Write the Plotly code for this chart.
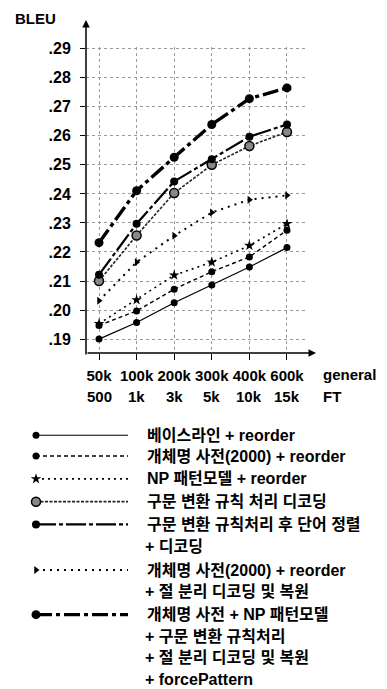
import plotly.graph_objects as go

# ---------------- data ----------------
categories = ["50k", "100k", "200k", "300k", "400k", "600k"]
ft_labels = ["500", "1k", "3k", "5k", "10k", "15k"]
y_tickvals = [0.19, 0.20, 0.21, 0.22, 0.23, 0.24, 0.25, 0.26, 0.27, 0.28, 0.29]
y_ticktext = [".19", ".20", ".21", ".22", ".23", ".24", ".25", ".26", ".27", ".28", ".29"]

s_baseline = [0.1900, 0.1957, 0.2025, 0.2086, 0.2148, 0.2215]
s_dict2000 = [0.1947, 0.1997, 0.2072, 0.2132, 0.2183, 0.2275]
s_np = [0.1953, 0.2035, 0.2120, 0.2165, 0.2222, 0.2297]
s_syntax = [0.2100, 0.2257, 0.2403, 0.2500, 0.2565, 0.2613]
s_syntax_reorder = [0.2122, 0.2297, 0.2443, 0.2519, 0.2597, 0.2639]
s_dict_clause = [0.2032, 0.2165, 0.2256, 0.2336, 0.2380, 0.2395]
s_all = [0.2232, 0.2411, 0.2526, 0.2639, 0.2728, 0.2765]

legend_labels = [
    "베이스라인 + reorder",
    "개체명 사전(2000) + reorder",
    "NP 패턴모델 + reorder",
    "구문 변환 규칙 처리 디코딩",
    "구문 변환 규칙처리 후 단어 정렬\n+ 디코딩",
    "개체명 사전(2000) + reorder\n+ 절 분리 디코딩 및 복원",
    "개체명 사전 + NP 패턴모델\n+ 구문 변환 규칙처리\n+ 절 분리 디코딩 및 복원\n+ forcePattern",
]

# ---------------- geometry (page pixels; page has 8px body margin) ----------------
OFF = 8
PAGE_W, PAGE_H = 387, 689
W, H = PAGE_W - OFF, PAGE_H - OFF
PX_L, PX_R, PX_T, PX_B = 86, 305, 41, 350


def fx(p):
    return (p - OFF) / W


def fy(p):
    return 1 - (p - OFF) / H


styles = [
    dict(line=dict(color="black", width=1.2, dash="solid"),
         marker=dict(symbol="circle", size=7, color="black")),
    dict(line=dict(color="black", width=1.4, dash="4px,3px"),
         marker=dict(symbol="circle", size=7, color="black")),
    dict(line=dict(color="black", width=1.6, dash="2px,4px"),
         marker=dict(symbol="star", size=8, color="black")),
    dict(line=dict(color="#222", width=1.6, dash="3px,1.5px"),
         marker=dict(symbol="circle", size=9, color="#888",
                     line=dict(color="black", width=1.5))),
    dict(line=dict(color="black", width=2.2, dash="20px,3px,4px,3px"),
         marker=dict(symbol="circle", size=8, color="black")),
    dict(line=dict(color="black", width=2.0, dash="2px,5px"),
         marker=dict(symbol="triangle-right", size=7, color="black")),
    dict(line=dict(color="black", width=3.4, dash="16px,4px,4px,4px"),
         marker=dict(symbol="circle", size=9, color="black")),
]
series = [s_baseline, s_dict2000, s_np, s_syntax, s_syntax_reorder, s_dict_clause, s_all]

fig = go.Figure()
for vals, st, name in zip(series, styles, legend_labels):
    fig.add_trace(go.Scatter(x=categories, y=vals, mode="lines+markers",
                             name=name.replace("\n", " "), showlegend=False,
                             line=st["line"], marker=st["marker"],
                             xaxis="x", yaxis="y", cliponaxis=False))

# ---------------- manual legend (overlay axes in page pixels) ----------------
legend_rows = [433, 454, 477, 500, 523, 569, 614]
LINE_X0, LINE_X1, TEXT_X = 36, 128, 145
ROW_STEP = 21.8
legend_font = dict(family="Liberation Sans, Noto Sans CJK KR", size=16,
                   color="black", weight="bold")
for row_y, st, label in zip(legend_rows, styles, legend_labels):
    fig.add_trace(go.Scatter(x=[LINE_X0, LINE_X1], y=[row_y, row_y], mode="lines",
                             line=st["line"], showlegend=False, hoverinfo="skip",
                             xaxis="x2", yaxis="y2"))
    fig.add_trace(go.Scatter(x=[LINE_X0], y=[row_y], mode="markers",
                             marker=st["marker"], showlegend=False, hoverinfo="skip",
                             xaxis="x2", yaxis="y2"))
    for k, part in enumerate(label.split("\n")):
        fig.add_annotation(x=TEXT_X - (2 if k > 0 else 0), y=row_y + k * ROW_STEP,
                           xref="x2", yref="y2", text=part, showarrow=False,
                           xanchor="left", yanchor="middle", font=legend_font)

xtick_font = dict(family="Liberation Sans", size=15, color="black", weight="bold")
ytick_font = dict(family="Liberation Sans", size=16, color="black", weight="bold")

fig.update_layout(
    width=W, height=H,
    margin=dict(l=0, r=0, t=0, b=0),
    paper_bgcolor="white", plot_bgcolor="rgba(0,0,0,0)",
    xaxis=dict(domain=[fx(PX_L), fx(PX_R)], type="category",
               range=[-0.3457, 5.479], showline=False, zeroline=False,
               showgrid=True, gridcolor="#999", griddash="dot", gridwidth=1,
               ticks="outside", ticklen=6, tickcolor="black", tickwidth=1.2,
               tickangle=0, tickfont=xtick_font, ticklabelstandoff=3, anchor="y"),
    yaxis=dict(domain=[fy(PX_B), fy(PX_T)], range=[0.18522, 0.29068],
               tickvals=y_tickvals, ticktext=y_ticktext,
               showline=False, zeroline=False,
               showgrid=True, gridcolor="#999", griddash="dot", gridwidth=1,
               ticks="outside", ticklen=5, tickcolor="black", tickwidth=1.2,
               tickfont=ytick_font, ticklabelstandoff=6, anchor="x"),
    xaxis2=dict(domain=[0, 1], range=[OFF, PAGE_W], visible=False, anchor="y2",
                fixedrange=True),
    yaxis2=dict(domain=[0, 1], range=[PAGE_H, OFF], visible=False, anchor="x2",
                fixedrange=True),
)

# second row of x tick labels (FT sizes) and axis names
for cat, ft in zip(categories, ft_labels):
    fig.add_annotation(x=cat, y=fy(394), xref="x", yref="paper", text=ft,
                       showarrow=False, xanchor="center", yanchor="middle",
                       font=xtick_font)
fig.add_annotation(x=fx(321), y=fy(372), xref="paper", yref="paper", text="general",
                   showarrow=False, xanchor="left", yanchor="middle", font=xtick_font)
fig.add_annotation(x=fx(321), y=fy(394), xref="paper", yref="paper", text="FT",
                   showarrow=False, xanchor="left", yanchor="middle", font=xtick_font)
fig.add_annotation(x=fx(13), y=fy(13), xref="paper", yref="paper", text="BLEU",
                   showarrow=False, xanchor="left", yanchor="middle",
                   font=dict(family="Liberation Sans", size=15, color="black",
                             weight="bold"))

# axis arrows
fig.add_annotation(x=fx(316), y=fy(PX_B), xref="paper", yref="paper", text="",
                   showarrow=True, arrowhead=2, arrowsize=1, arrowwidth=1.5,
                   arrowcolor="black", ax=-(316 - PX_L), ay=0)
fig.add_annotation(x=fx(PX_L), y=fy(14), xref="paper", yref="paper", text="",
                   showarrow=True, arrowhead=2, arrowsize=1, arrowwidth=1.5,
                   arrowcolor="black", ax=0, ay=(PX_B - 14))

fig.write_html("out.html")
